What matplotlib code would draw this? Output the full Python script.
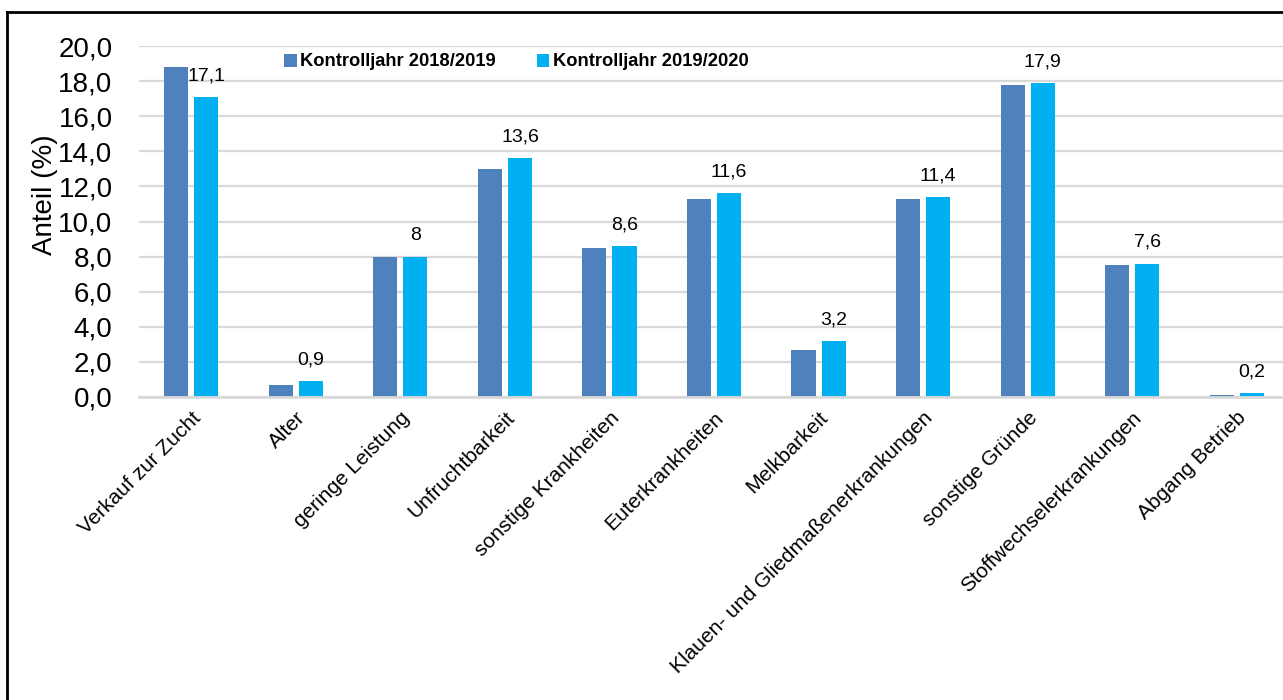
import matplotlib
matplotlib.use("Agg")
import matplotlib.pyplot as plt
import matplotlib.ticker as mticker
from matplotlib.lines import Line2D
import numpy as np

# ── Data ───────────────────────────────────────────────────────────────────────
categories = [
    "Verkauf zur Zucht", "Alter", "geringe Leistung", "Unfruchtbarkeit",
    "sonstige Krankheiten", "Euterkrankheiten", "Melkbarkeit",
    "Klauen- und Gliedmaßenerkrankungen", "sonstige Gründe",
    "Stoffwechselerkrankungen", "Abgang Betrieb",
]
jahr_2018_2019 = [18.8, 0.7, 8.0, 13.0, 8.5, 11.3, 2.7, 11.3, 17.8, 7.5, 0.1]
jahr_2019_2020 = [17.1, 0.9, 8.0, 13.6, 8.6, 11.6, 3.2, 11.4, 17.9, 7.6, 0.2]
series_labels = ["Kontrolljahr 2018/2019", "Kontrolljahr 2019/2020"]
y_ticks = [0, 2, 4, 6, 8, 10, 12, 14, 16, 18, 20]

# ── Style ──────────────────────────────────────────────────────────────────────
plt.rcParams["font.family"] = ["Liberation Sans", "DejaVu Sans"]
DARK = "#4F81BD"
LIGHT = "#00B0F0"
GRID = "#D9D9D9"

fig = plt.figure(figsize=(12.83, 7.0), dpi=100)
ax = fig.add_axes([139 / 1283, 1 - 397 / 700, 1150 / 1283, 351 / 700])

x = np.arange(len(categories))
bw = 0.23
off = 0.144

ax.bar(x - off, jahr_2018_2019, bw, color=DARK, label=series_labels[0], zorder=3)
ax.bar(x + off, jahr_2019_2020, bw, color=LIGHT, label=series_labels[1], zorder=3)

# value labels above the 2019/2020 bars
for xi, v in zip(x + off, jahr_2019_2020):
    ax.annotate(f"{v:g}".replace(".", ","), xy=(xi, v), xytext=(0, 12),
                textcoords="offset points", ha="center", va="baseline",
                fontsize=14, color="black", zorder=4)

ax.set_xlim(-0.5, len(categories) - 0.5)
ax.set_ylim(0, 20)
ax.set_yticks(y_ticks)
ax.yaxis.set_major_formatter(mticker.FuncFormatter(lambda v, _: f"{v:.1f}".replace(".", ",")))
ax.tick_params(axis="y", length=0, labelsize=20, pad=19)
ax.set_xticks(x)
ax.set_xticklabels(categories, rotation=45, ha="right", rotation_mode="anchor", fontsize=15)
ax.tick_params(axis="x", length=0, pad=8)

ax.grid(axis="y", color=GRID, linewidth=1.6, zorder=0)
for side in ("top", "right", "left"):
    ax.spines[side].set_visible(False)
ax.spines["bottom"].set_color(GRID)
ax.spines["bottom"].set_linewidth(2)
ax.spines["bottom"].set_zorder(4)

fig.text(45 / 1283, 1 - 195 / 700, "Anteil (%)", rotation=90,
         ha="center", va="center", fontsize=20)

ax.legend(loc="center left", bbox_to_anchor=((284 - 139) / 1150, 1 - (62 - 46) / 351),
          ncol=2, frameon=False, handlelength=0.7, handleheight=0.7,
          handletextpad=0.2, columnspacing=2.2, borderaxespad=0, borderpad=0,
          prop={"weight": "bold", "size": 13.2})

# outer frame (top and left edges visible in the reference)
fig.add_artist(Line2D([7 / 1283, 1.0], [1 - 12 / 700, 1 - 12 / 700],
                      transform=fig.transFigure, color="black", linewidth=2))
fig.add_artist(Line2D([7 / 1283, 7 / 1283], [0, 1 - 12 / 700],
                      transform=fig.transFigure, color="black", linewidth=2))

fig.savefig("out.png", dpi=100)
